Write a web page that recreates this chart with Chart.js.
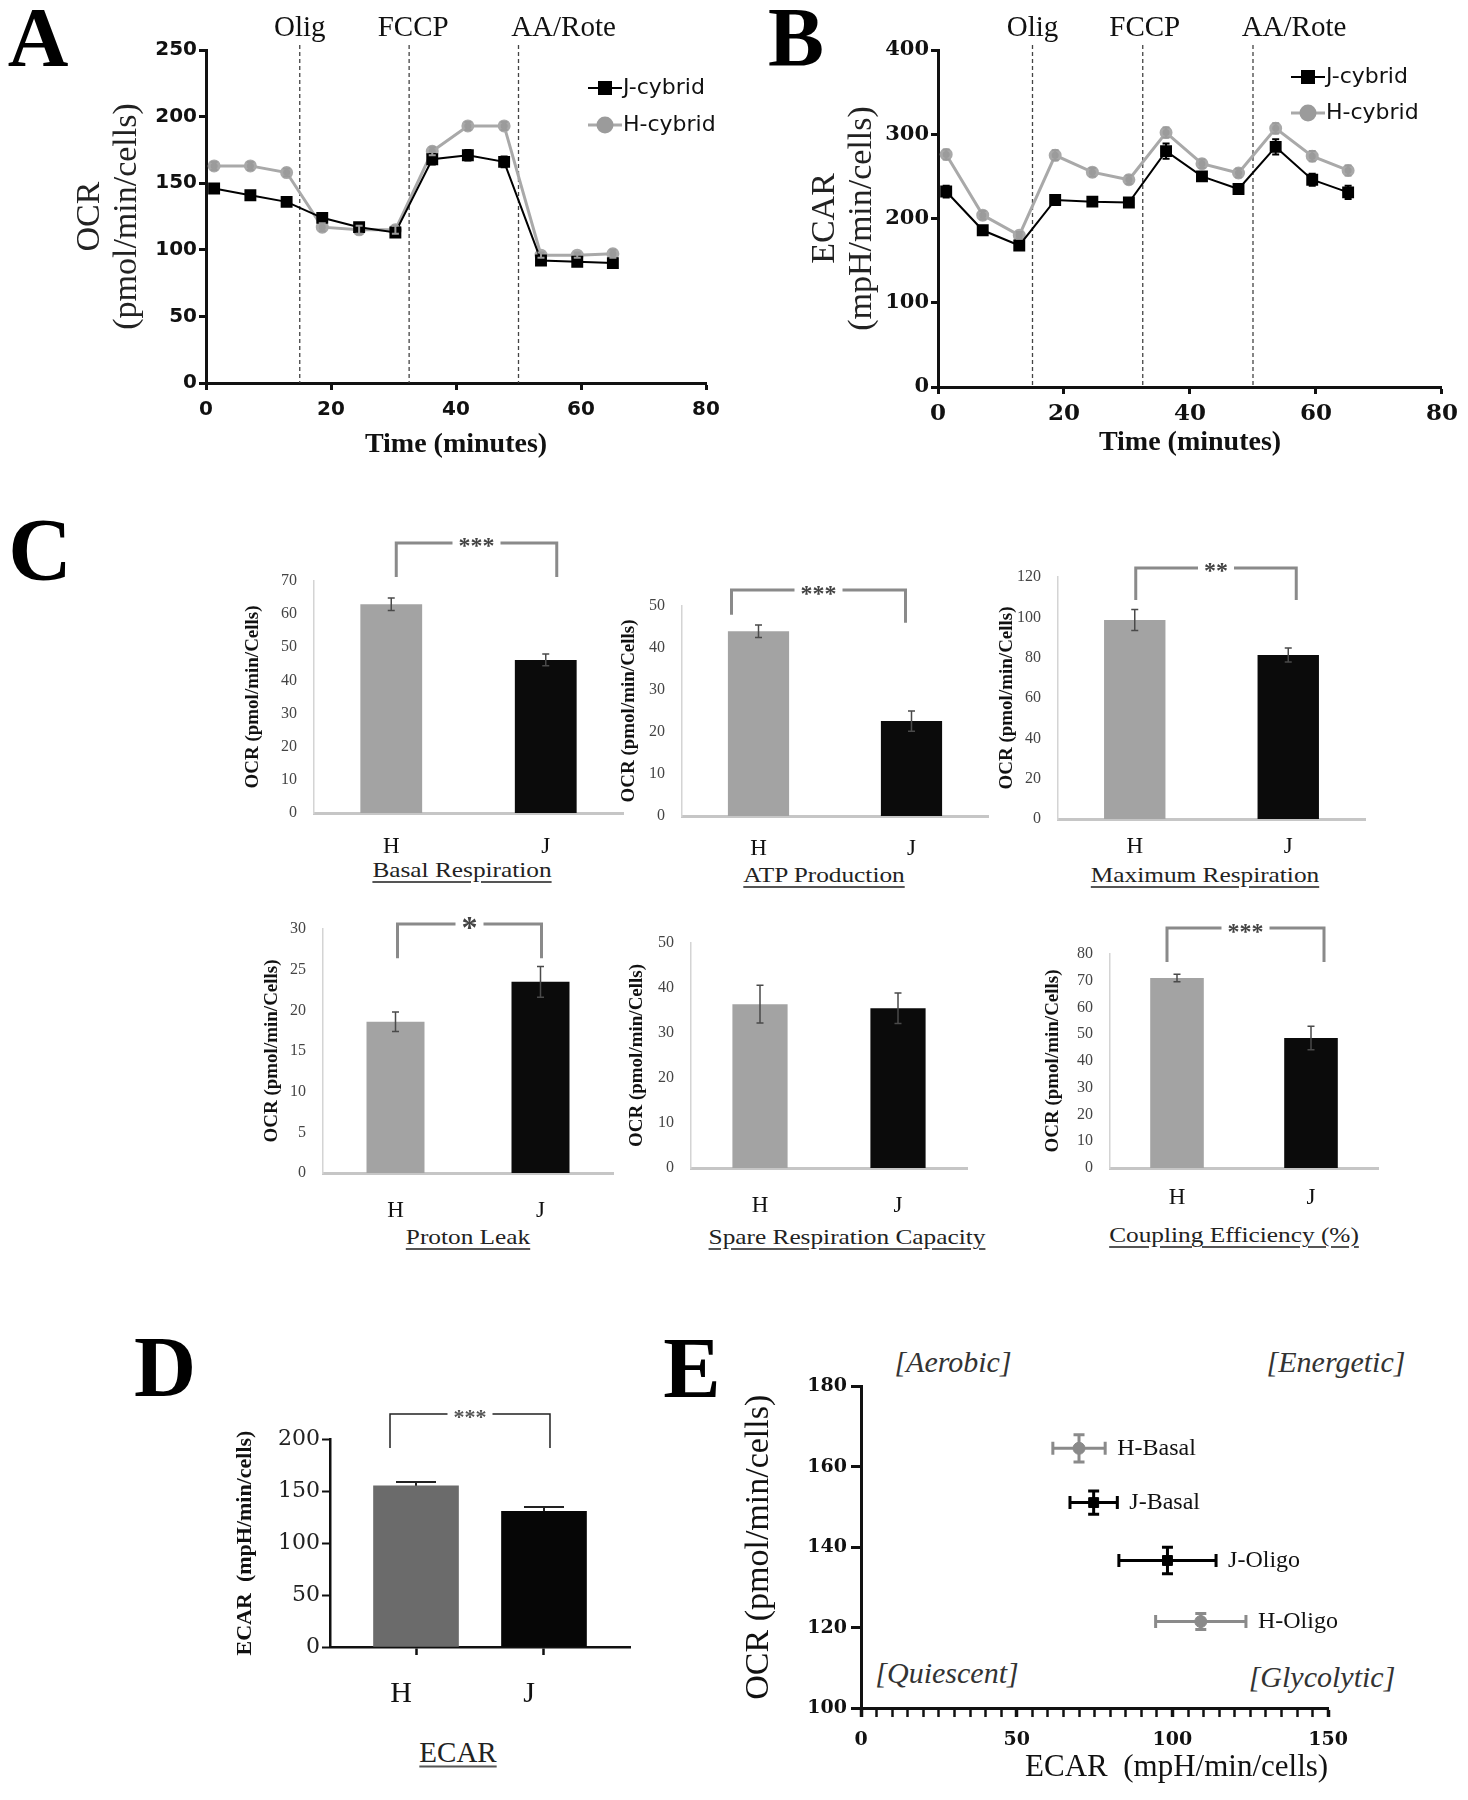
<!DOCTYPE html>
<html>
<head>
<meta charset="utf-8">
<script src="https://cdn.jsdelivr.net/npm/chart.js@4.4.1/dist/chart.umd.min.js"></script>
<style>
  html, body { margin: 0; padding: 0; background: #fff; }
  #fig { position: relative; width: 1468px; height: 1800px; overflow: hidden; font-family: 'Liberation Serif', serif; }
  #fig canvas { position: absolute; }
  .lbl { position: absolute; transform: translate(-50%, -50%); line-height: 1; white-space: nowrap; color: #111; }
  .letter { font-weight: bold; color: #000; }
  .sub { font-size: 22px; color: #222; text-decoration: underline; text-decoration-thickness: 2px;
         text-underline-offset: 4px; text-decoration-color: #555; transform: translate(-50%, -50%) scaleX(1.15); }
  .quad { font-style: italic; font-size: 30px; color: #333; }
</style>
</head>
<body>
<div id="fig">
  <div class="lbl letter" style="left:38px;top:38px;font-size:84px">A</div>
  <div class="lbl letter" style="left:796px;top:38px;font-size:84px">B</div>
  <div class="lbl letter" style="left:40px;top:550px;font-size:88px">C</div>
  <div class="lbl letter" style="left:165px;top:1367px;font-size:86px">D</div>
  <div class="lbl letter" style="left:692px;top:1368px;font-size:86px">E</div>

  <div class="lbl sub" style="left:462px;top:870px">Basal Respiration</div>
  <div class="lbl sub" style="left:824px;top:875px">ATP Production</div>
  <div class="lbl sub" style="left:1205px;top:875px">Maximum Respiration</div>
  <div class="lbl sub" style="left:468px;top:1237px">Proton Leak</div>
  <div class="lbl sub" style="left:847px;top:1237px">Spare Respiration Capacity</div>
  <div class="lbl sub" style="left:1234px;top:1235px">Coupling Efficiency (%)</div>
  <div class="lbl sub" style="left:458px;top:1752px;font-size:29px;transform:translate(-50%,-50%)">ECAR</div>

  <div class="lbl quad" style="left:953px;top:1362px">[Aerobic]</div>
  <div class="lbl quad" style="left:1336px;top:1362px">[Energetic]</div>
  <div class="lbl quad" style="left:947px;top:1673px">[Quiescent]</div>
  <div class="lbl quad" style="left:1322px;top:1677px">[Glycolytic]</div>
</div>
<script>
// time course (A, B)
const times = [1.3, 7.1, 12.9, 18.6, 24.5, 30.3, 36.2, 41.9, 47.7, 53.6, 59.4, 65.1];
const ocrJ = [146, 141, 136, 124, 117, 113, 168, 171, 166, 92, 91, 90];
const ocrH = [163, 163, 158, 117, 115, 115, 174, 193, 193, 96, 96, 97];
const ocrJErr = [3, 3, 2, 3, 3, 3, 4, 4, 4, 2, 2, 2];
const ocrHErr = [3, 3, 3, 3, 3, 3, 3, 3, 3, 2, 2, 3];
const ecarJ = [232, 186, 168, 222, 220, 219, 280, 250, 235, 285, 246, 231];
const ecarH = [276, 204, 180, 275, 255, 246, 302, 265, 254, 307, 274, 257];
const ecarJErr = [7, 4, 4, 5, 4, 5, 9, 5, 5, 9, 7, 8];
const ecarHErr = [6, 5, 4, 6, 5, 5, 6, 5, 5, 6, 6, 6];
const injectTimes = [15, 32.5, 50];
const injectNames = ['Olig', 'FCCP', 'AA/Rote'];

// bar panels (C, D)
const groups = ['H', 'J'];
const basal = [63.0, 46.2], basalErr = [1.9, 1.8];
const atp = [44.0, 22.6], atpErr = [1.5, 2.4];
const maxResp = [98.7, 81.3], maxRespErr = [5.2, 3.5];
const leak = [18.6, 23.5], leakErr = [1.2, 1.9];
const spare = [36.4, 35.5], spareErr = [4.2, 3.4];
const coupling = [71.0, 48.6], couplingErr = [1.4, 4.4];
const ecarBar = [155, 130.5], ecarBarErr = [3.6, 4.0];

// energy map (E)
const pointNames = ['H-Basal', 'J-Basal', 'J-Oligo', 'H-Oligo'];
const pointEcar = [70.0, 74.7, 98.4, 109.1];
const pointEcarErr = [8.4, 7.6, 15.6, 14.5];
const pointOcr = [164.6, 151.1, 136.7, 121.5];
const pointOcrErr = [3.4, 2.9, 3.3, 2.0];

const fig = document.getElementById('fig');
Chart.defaults.font.family = "'Liberation Serif', serif";
Chart.defaults.color = '#111';

// canvas placed so the plot area lands on l,t,r,b of the page
function frame(l, t, r, b, yW, xH, padT, padR) {
  const x = l - yW, y = t - padT;
  const c = document.createElement('canvas');
  c.width = r + padR - x;
  c.height = b + xH - y;
  c.style.left = x + 'px';
  c.style.top = y + 'px';
  fig.appendChild(c);
  return { canvas: c, padding: { left: 0, top: padT, right: padR, bottom: 0 }, yW, xH };
}

function baseOptions(f) {
  return {
    responsive: false,
    animation: false,
    events: [],
    layout: { padding: f.padding, autoPadding: false },
    plugins: { legend: { display: false }, tooltip: { enabled: false } }
  };
}
const fitY = f => s => { s.width = f.yW; };
const fitX = f => s => { s.height = f.xH; };

function errorBars(sets) {
  return {
    id: 'errorBars',
    afterDatasetsDraw(chart) {
      const ctx = chart.ctx, xs = chart.scales.x, ys = chart.scales.y;
      sets.forEach(s => {
        const meta = chart.getDatasetMeta(s.dataset);
        const vals = chart.data.datasets[s.dataset].data;
        ctx.save();
        ctx.lineWidth = s.width;
        meta.data.forEach((el, i) => {
          const v = vals[i];
          const yv = typeof v === 'object' ? v.y : v;
          ctx.strokeStyle = Array.isArray(s.color) ? s.color[i] : s.color;
          ctx.beginPath();
          if (s.y) {
            const top = ys.getPixelForValue(yv + s.y[i]);
            const bot = s.up ? el.y : ys.getPixelForValue(yv - s.y[i]);
            ctx.moveTo(el.x, bot); ctx.lineTo(el.x, top);
            ctx.moveTo(el.x - s.cap / 2, top); ctx.lineTo(el.x + s.cap / 2, top);
            if (!s.up) { ctx.moveTo(el.x - s.cap / 2, bot); ctx.lineTo(el.x + s.cap / 2, bot); }
          }
          if (s.x) {
            const l = xs.getPixelForValue(v.x - s.x[i]), r = xs.getPixelForValue(v.x + s.x[i]);
            ctx.moveTo(l, el.y); ctx.lineTo(r, el.y);
            ctx.moveTo(l, el.y - s.capX / 2); ctx.lineTo(l, el.y + s.capX / 2);
            ctx.moveTo(r, el.y - s.capX / 2); ctx.lineTo(r, el.y + s.capX / 2);
          }
          ctx.stroke();
        });
        ctx.restore();
      });
    }
  };
}

function bracket(b) {
  return {
    id: 'bracket',
    afterDraw(chart) {
      const ctx = chart.ctx, ys = chart.scales.y, meta = chart.getDatasetMeta(0);
      const xL = meta.data[0].x + b.dxL, xR = meta.data[1].x + b.dxR;
      const yT = ys.getPixelForValue(b.top);
      ctx.save();
      ctx.font = 'bold ' + b.size + "px 'Liberation Serif'";
      const half = ctx.measureText(b.text).width / 2 + 6;
      const cx = (xL + xR) / 2;
      ctx.strokeStyle = b.color || '#8a8a8a';
      ctx.lineWidth = b.width || 3;
      ctx.beginPath();
      ctx.moveTo(xL, ys.getPixelForValue(b.legL)); ctx.lineTo(xL, yT); ctx.lineTo(cx - half, yT);
      ctx.moveTo(cx + half, yT); ctx.lineTo(xR, yT); ctx.lineTo(xR, ys.getPixelForValue(b.legR));
      ctx.stroke();
      ctx.fillStyle = b.textColor || '#444';
      ctx.textAlign = 'center';
      ctx.textBaseline = 'middle';
      ctx.fillText(b.text, cx, yT + 0.18 * b.size);
      ctx.restore();
    }
  };
}

function injections(dx) {
  return {
    id: 'injections',
    beforeDatasetsDraw(chart) {
      const ctx = chart.ctx, xs = chart.scales.x, a = chart.chartArea;
      ctx.save();
      injectTimes.forEach((t, i) => {
        const x = xs.getPixelForValue(t);
        ctx.strokeStyle = '#444';
        ctx.lineWidth = 1.3;
        ctx.setLineDash([4, 3]);
        ctx.beginPath(); ctx.moveTo(x, a.top - 5); ctx.lineTo(x, a.bottom); ctx.stroke();
        ctx.fillStyle = '#111';
        ctx.font = "29px 'Liberation Serif'";
        ctx.textAlign = 'center';
        ctx.textBaseline = 'middle';
        ctx.fillText(injectNames[i], x + dx[i], 28);
      });
      ctx.restore();
    }
  };
}

function seriesLegend(dx, rows) {
  return {
    id: 'seriesLegend',
    afterDraw(chart) {
      const ctx = chart.ctx, a = chart.chartArea;
      ctx.save();
      chart.data.datasets.forEach((ds, i) => {
        const x = a.right - dx, y = a.top + rows[i];
        ctx.strokeStyle = ds.borderColor;
        ctx.lineWidth = ds.borderWidth;
        ctx.beginPath(); ctx.moveTo(x - 17, y); ctx.lineTo(x + 17, y); ctx.stroke();
        ctx.fillStyle = ds.backgroundColor;
        if (ds.pointStyle === 'rect') ctx.fillRect(x - 7, y - 7, 14, 14);
        else { ctx.beginPath(); ctx.arc(x, y, 8.5, 0, Math.PI * 2); ctx.fill(); }
        ctx.fillStyle = '#111';
        ctx.font = "22px 'DejaVu Sans'";
        ctx.textAlign = 'left';
        ctx.textBaseline = 'middle';
        ctx.fillText(ds.label, x + 18, y);
      });
      ctx.restore();
    }
  };
}

function pointLabels() {
  return {
    id: 'pointLabels',
    afterDatasetsDraw(chart) {
      const ctx = chart.ctx, xs = chart.scales.x, meta = chart.getDatasetMeta(0);
      ctx.save();
      ctx.fillStyle = '#111';
      ctx.font = "24px 'Liberation Serif'";
      ctx.textAlign = 'left';
      ctx.textBaseline = 'middle';
      meta.data.forEach((el, i) => {
        ctx.fillText(pointNames[i], xs.getPixelForValue(pointEcar[i] + pointEcarErr[i]) + 12, el.y);
      });
      ctx.restore();
    }
  };
}

function timeChart(f, j, h, jErr, hErr, yMax, yStep, tickFont, yTitle, xPad, legendDx, legendRows, injDx) {
  const axisGrid = { drawOnChartArea: false, tickLength: 7, tickWidth: 3, tickColor: '#111' };
  new Chart(f.canvas, {
    type: 'line',
    data: {
      datasets: [
        { label: 'J-cybrid', data: times.map((t, i) => ({ x: t, y: j[i] })), borderColor: '#000', backgroundColor: '#000',
          borderWidth: 2, pointStyle: 'rect', pointRadius: 7, tension: 0 },
        { label: 'H-cybrid', data: times.map((t, i) => ({ x: t, y: h[i] })), borderColor: '#a9a9a9', backgroundColor: '#9b9b9b',
          borderWidth: 3, pointStyle: 'circle', pointRadius: 5, tension: 0 }
      ]
    },
    options: {
      ...baseOptions(f),
      scales: {
        x: { type: 'linear', min: 0, max: 80, afterFit: fitX(f),
             ticks: { stepSize: 20, padding: xPad, font: tickFont.x, color: '#111' },
             grid: axisGrid, border: { color: '#111', width: 3 },
             title: { display: true, text: 'Time (minutes)', padding: 0, font: { size: 28, weight: 'bold' }, color: '#111' } },
        y: { min: 0, max: yMax, afterFit: fitY(f),
             ticks: { stepSize: yStep, padding: 2, font: tickFont.y, color: '#111' },
             grid: axisGrid, border: { color: '#111', width: 3 },
             title: { display: true, text: yTitle.text, padding: 0, font: { size: yTitle.size, lineHeight: 1.1 }, color: '#222' } }
      }
    },
    plugins: [
      injections(injDx),
      errorBars([{ dataset: 0, y: jErr, cap: 7, width: 2, color: '#000' },
                 { dataset: 1, y: hErr, cap: 7, width: 2, color: '#9b9b9b' }]),
      seriesLegend(legendDx, legendRows)
    ]
  });
}

function ocrBar(f, values, errors, yMax, yStep, xPad, brk) {
  const plugins = [errorBars([{ dataset: 0, y: errors, cap: 7, width: 1.5, color: '#4a4a4a' }])];
  if (brk) plugins.push(bracket(brk));
  new Chart(f.canvas, {
    type: 'bar',
    data: { labels: groups, datasets: [{ data: values, backgroundColor: ['#a3a3a3', '#0b0b0b'], categoryPercentage: 1, barPercentage: 0.4 }] },
    options: {
      ...baseOptions(f),
      scales: {
        x: { afterFit: fitX(f), grid: { display: false }, border: { color: '#c6c6c6', width: 3 },
             ticks: { padding: xPad, font: { size: 23 }, color: '#111' } },
        y: { min: 0, max: yMax, afterFit: fitY(f), grid: { display: false }, border: { color: '#d4d4d4', width: 1.5 },
             ticks: { stepSize: yStep, padding: 9, font: { size: 16 }, color: '#444' },
             title: { display: true, text: 'OCR (pmol/min/Cells)', padding: 0, font: { size: 19, weight: 'bold' }, color: '#111' } }
      }
    },
    plugins
  });
}

// A
timeChart(frame(206, 50, 706, 383, 135, 79, 50, 30), ocrJ, ocrH, ocrJErr, ocrHErr, 250, 50,
  { x: { family: 'DejaVu Sans', weight: 'bold', size: 20 }, y: { family: 'DejaVu Sans', weight: 'bold', size: 20 } },
  { text: ['OCR', '(pmol/min/cells)'], size: 34 }, 8, 101, [38, 75], [0, 4, 45]);

// B
timeChart(frame(938, 50, 1444, 387, 132, 73, 50, 20), ecarJ, ecarH, ecarJErr, ecarHErr, 400, 100,
  { x: { family: 'DejaVu Serif', weight: 'bold', size: 23 }, y: { family: 'DejaVu Serif', weight: 'bold', size: 21 } },
  { text: ['ECAR', '(mpH/min/cells)'], size: 34 }, 6, 134, [27, 63], [0, 2, 41]);

// C
ocrBar(frame(314, 581, 623, 813, 72, 45, 61, 10), basal, basalErr, 70, 10, 12,
  { dxL: 5, dxR: 11, top: 81.5, legL: 71.2, legR: 71.2, text: '***', size: 24 });
ocrBar(frame(682, 606, 988, 816, 64, 45, 36, 10), atp, atpErr, 50, 10, 11,
  { dxL: -27, dxR: -6, top: 53.8, legL: 47.9, legR: 46.0, text: '***', size: 24 });
ocrBar(frame(1058, 577, 1365, 819, 62, 45, 32, 10), maxResp, maxRespErr, 120, 20, 6,
  { dxL: 1, dxR: 8, top: 124.5, legL: 108.6, legR: 108.6, text: '**', size: 24 });
ocrBar(frame(323, 929, 613, 1173, 62, 45, 34, 10), leak, leakErr, 30, 5, 16,
  { dxL: 2, dxR: 1, top: 30.6, legL: 26.4, legR: 26.4, text: '*', size: 32 });
ocrBar(frame(691, 943, 967, 1168, 65, 45, 23, 10), spare, spareErr, 50, 10, 16, null);
ocrBar(frame(1110, 954, 1378, 1168, 68, 45, 54, 10), coupling, couplingErr, 80, 10, 8,
  { dxL: -10, dxR: 13, top: 89.7, legL: 77.0, legR: 77.0, text: '***', size: 24 });

// D
const fD = frame(330, 1439, 630, 1647, 98, 65, 44, 20);
new Chart(fD.canvas, {
  type: 'bar',
  data: { datasets: [{ data: groups.map((g, i) => ({ x: i, y: ecarBar[i] })), backgroundColor: ['#6b6b6b', '#060606'], barThickness: 85 }] },
  options: {
    ...baseOptions(fD),
    scales: {
      x: { type: 'linear', min: -0.672, max: 1.672, offset: false, afterFit: fitX(fD),
           afterBuildTicks: s => { s.ticks = groups.map((g, i) => ({ value: i })); },
           ticks: { callback: v => groups[v], labelOffset: -15, padding: 21, font: { size: 30 }, color: '#111' },
           grid: { offset: false, drawOnChartArea: false, tickLength: 8, tickWidth: 2.5, tickColor: '#111' },
           border: { color: '#111', width: 2.5 } },
      y: { min: 0, max: 200, afterFit: fitY(fD),
           ticks: { stepSize: 50, padding: 2, font: { family: 'DejaVu Serif', size: 22 }, color: '#222' },
           grid: { drawOnChartArea: false, tickLength: 8, tickWidth: 2, tickColor: '#111' },
           border: { color: '#111', width: 2.5 },
           title: { display: true, text: 'ECAR  (mpH/min/cells)', padding: 0, font: { size: 22, weight: 'bold' }, color: '#111' } }
    }
  },
  plugins: [
    errorBars([{ dataset: 0, y: ecarBarErr, up: true, cap: 40, width: 2, color: '#222' }]),
    bracket({ dxL: -26, dxR: 6, top: 224, legL: 191.3, legR: 191.3, text: '***', size: 22, color: '#222', width: 1.5, textColor: '#555' })
  ]
});

// E
const fE = frame(861, 1385, 1342, 1708, 122, 78, 14, 18);
const pointColors = pointNames.map(n => n[0] === 'H' ? '#8a8a8a' : '#000');
new Chart(fE.canvas, {
  type: 'scatter',
  data: {
    datasets: [{
      data: pointNames.map((n, i) => ({ x: pointEcar[i], y: pointOcr[i] })),
      pointStyle: pointNames.map(n => n[0] === 'H' ? 'circle' : 'rect'),
      pointRadius: pointNames.map(n => n[0] === 'H' ? 6 : 7),
      backgroundColor: pointColors, borderColor: pointColors
    }]
  },
  options: {
    ...baseOptions(fE),
    scales: {
      x: { min: 0, max: 150, afterFit: fitX(fE),
           ticks: { stepSize: 5, autoSkip: false, maxRotation: 0, callback: v => v % 50 === 0 ? v : '', padding: 12,
                    font: { family: 'DejaVu Serif', weight: 'bold', size: 19 }, color: '#111' },
           grid: { drawOnChartArea: false, tickLength: 9, tickColor: '#111',
                   tickWidth: c => (c.tick && c.tick.value % 50 === 0) ? 3.5 : 2.5 },
           border: { color: '#111', width: 3 },
           title: { display: true, text: 'ECAR  (mpH/min/cells)', align: 'end', padding: 0, font: { size: 31 }, color: '#111' } },
      y: { min: 100, max: 180, afterFit: fitY(fE),
           ticks: { stepSize: 20, padding: 4, font: { family: 'DejaVu Serif', weight: 'bold', size: 19 }, color: '#111' },
           grid: { drawOnChartArea: false, tickLength: 10, tickWidth: 3, tickColor: '#111' },
           border: { color: '#111', width: 3 },
           title: { display: true, text: 'OCR (pmol/min/cells)', padding: 0, font: { size: 34 }, color: '#111' } }
    }
  },
  plugins: [
    errorBars([{ dataset: 0, y: pointOcrErr, x: pointEcarErr, cap: 11, capX: 13, width: 3, color: pointColors }]),
    pointLabels()
  ]
});
</script>
</body>
</html>
